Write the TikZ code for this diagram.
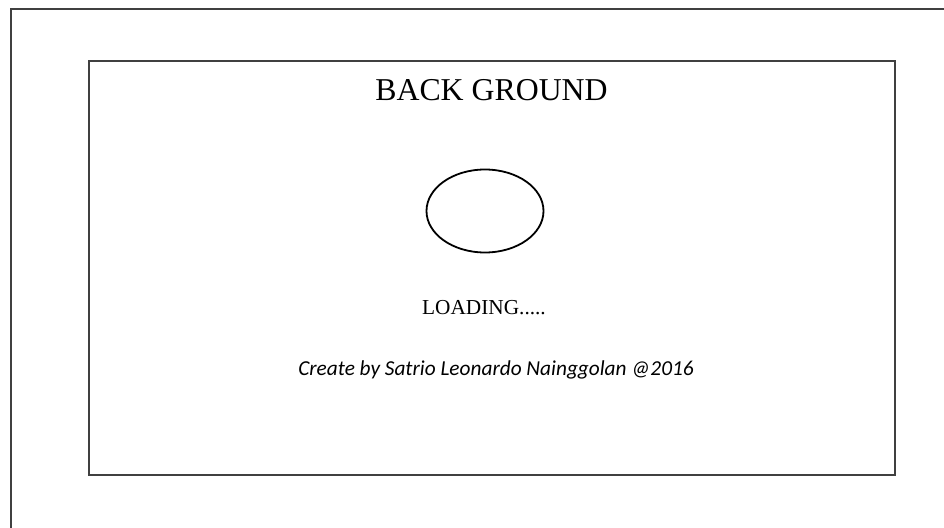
\documentclass[tikz,border=0pt]{standalone}
\usepackage{fontspec}
\setmainfont{Liberation Serif}
\newfontfamily\calfont{Carlito}
\usetikzlibrary{shapes.geometric}
\definecolor{framegray}{HTML}{404040}
\tikzset{
  frameline/.style={draw=framegray, line width=1.3pt},
  plain/.style={inner sep=0pt, outer sep=0pt, anchor=base},
}
\begin{document}
\begin{tikzpicture}[x=1pt,y=-1pt]
\useasboundingbox (0,0) rectangle (944,527);
\fill[white] (0,0) rectangle (944,527);
% outer frame (only top and left edges visible)
\coordinate (obl) at (11,530);
\coordinate (otl) at (11,9);
\coordinate (otr) at (947,9);
\draw[frameline] (obl) -- (otl) -- (otr);
% inner frame
\node[frameline, rectangle, minimum width=806pt, minimum height=414pt, inner sep=0pt] (inner) at (492,268) {};
% title
\node[plain, font=\fontsize{31.8}{36}\selectfont] (title) at (491.5,100.7) {BACK GROUND};
% loading circle
\node[draw=black, line width=1.8pt, ellipse, minimum width=117pt, minimum height=83pt, inner sep=0pt] (spinner) at (485,211) {};
% loading text
\node[plain, font=\fontsize{21.3}{25}\selectfont] (loading) at (484,314.3) {LOADING.....};
% credit
\node[plain, font=\calfont\itshape\fontsize{21.3}{25}\selectfont] (credit) at (496,375) {Create by Satrio Leonardo Nainggolan @2016};
\end{tikzpicture}
\end{document}
